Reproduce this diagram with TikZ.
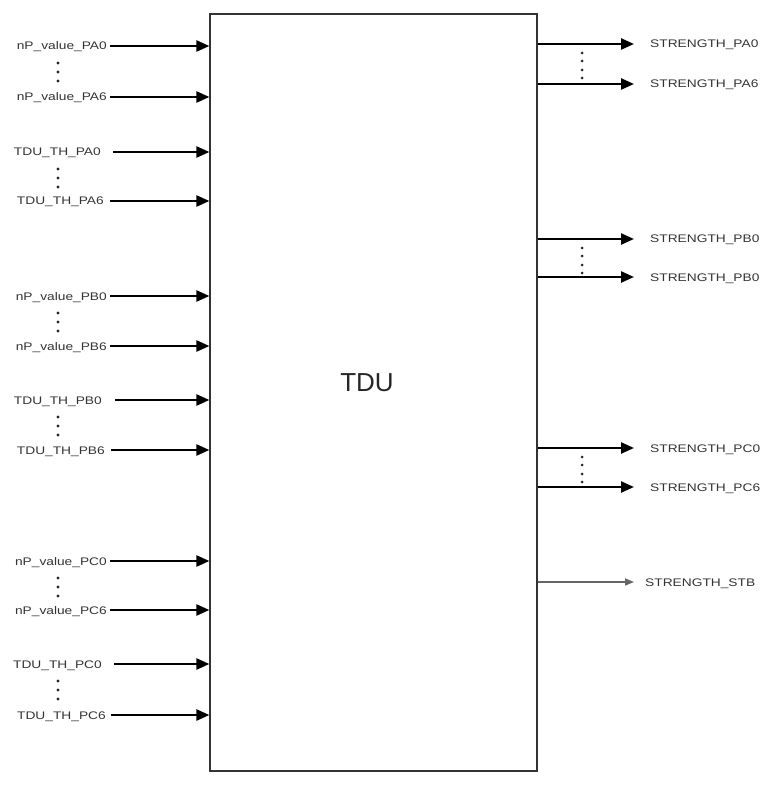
\documentclass[tikz,border=0pt]{standalone}
\usepackage{fontspec}
\usepackage{tikz}
\usetikzlibrary{arrows.meta,positioning,calc}
\newfontfamily\sigfont[FakeStretch=1.25]{Liberation Sans}
\newfontfamily\blockfont{Liberation Sans}

\begin{document}
\begin{tikzpicture}[x=1pt,y=-1pt,
  sig/.style={line width=2.4pt,black,-{Triangle[length=13pt,width=11pt]}},
  stb/.style={line width=1.6pt,black!60,-{Triangle[length=9pt,width=7pt]}},
  siglabel/.style={inner sep=0pt,text height=8pt,text depth=0pt,text=black!80,font=\sigfont\fontsize{11}{13}\selectfont}]
\useasboundingbox (0,0) rectangle (776,786);
\node[draw=black!80,line width=1.2pt,minimum width=327pt,minimum height=757pt,inner sep=0pt] (tdu) at (373.5,392.5) {};
\node[text=black!85,font=\blockfont\fontsize{26}{30}\selectfont] (tdulabel) at (367,383) {TDU};
\foreach \y/\n/\x/\s [count=\i] in {46/nP\_value\_PA0/107/110, 97/nP\_value\_PA6/107/110,
  152/TDU\_TH\_PA0/101/113, 201/TDU\_TH\_PA6/104/110,
  296/nP\_value\_PB0/107/110, 346/nP\_value\_PB6/107/110,
  400/TDU\_TH\_PB0/102/115, 450/TDU\_TH\_PB6/105/111,
  561/nP\_value\_PC0/107/110, 610/nP\_value\_PC6/107/110,
  664/TDU\_TH\_PC0/102/114, 715/TDU\_TH\_PC6/106/111}{
  \node[siglabel,anchor=east] (in\i) at (\x,\y) {\n};
  \draw[sig,shorten <=\s pt-\x pt] (in\i.east) -- (in\i.east -| tdu.west);
}
\foreach \y in {46,152,296,400,561,664}
  \foreach \d in {17,26,35}
    \fill[black!85] (58,\y+\d) circle (1.6);
\foreach \y/\n [count=\i] in {44/STRENGTH\_PA0, 84/STRENGTH\_PA6, 239/STRENGTH\_PB0, 277/STRENGTH\_PB0,
  448/STRENGTH\_PC0, 487/STRENGTH\_PC6}{
  \node[siglabel,anchor=west] (out\i) at (650,\y) {\n};
  \draw[sig,shorten >=16pt] (out\i.west -| tdu.east) -- (out\i.west);
}
\foreach \y in {44,239,448}
  \foreach \d in {9,17,26,34}
    \fill[black!85] (582,\y+\d) circle (1.5);
\node[siglabel,anchor=west] (outstb) at (645,582) {STRENGTH\_STB};
\draw[stb,shorten >=11pt] (outstb.west -| tdu.east) -- (outstb.west);
\end{tikzpicture}
\end{document}
